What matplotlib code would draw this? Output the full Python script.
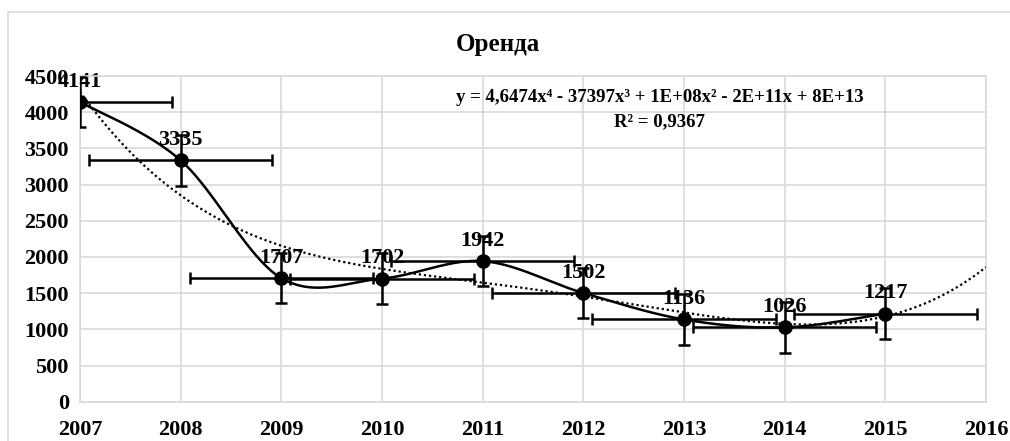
import numpy as np
import matplotlib
matplotlib.use("Agg")
import matplotlib.pyplot as plt
from matplotlib.patches import Rectangle

plt.rcParams['font.family'] = ['Liberation Serif', 'DejaVu Serif']
plt.rcParams['font.weight'] = 'bold'

years = [2007, 2008, 2009, 2010, 2011, 2012, 2013, 2014, 2015]
rent = [4141, 3335, 1707, 1702, 1942, 1502, 1136, 1026, 1217]
x_err = 0.91
y_err = 350
title = "Оренда"
equation = "y = 4,6474x⁴ - 37397x³ + 1E+08x² - 2E+11x + 8E+13"
r2_text = "R² = 0,9367"
x_ticks = list(range(2007, 2017))
y_ticks = list(range(0, 4501, 500))


def smooth(xs, ys, n=40):
    # bezier curve through the points, catmull-rom style tangents
    xs = np.asarray(xs, float)
    ys = np.asarray(ys, float)
    px = np.concatenate([[xs[0]], xs, [xs[-1]]])
    py = np.concatenate([[ys[0]], ys, [ys[-1]]])
    out_x, out_y = [], []
    t = np.linspace(0, 1, n)
    for i in range(1, len(px) - 2):
        p0 = np.array([px[i], py[i]])
        p3 = np.array([px[i + 1], py[i + 1]])
        p1 = p0 + (np.array([px[i + 1], py[i + 1]]) - np.array([px[i - 1], py[i - 1]])) / 6
        p2 = p3 - (np.array([px[i + 2], py[i + 2]]) - np.array([px[i], py[i]])) / 6
        b = ((1 - t) ** 3)[:, None] * p0 + (3 * (1 - t) ** 2 * t)[:, None] * p1 \
            + (3 * (1 - t) * t ** 2)[:, None] * p2 + (t ** 3)[:, None] * p3
        out_x.extend(b[:, 0])
        out_y.extend(b[:, 1])
    return out_x, out_y


fig = plt.figure(figsize=(10.1, 4.41), dpi=100)
fig.patches.append(Rectangle((8 / 1010, -0.1), 1.2, (441 - 12) / 441 + 0.1,
                             transform=fig.transFigure, fill=False,
                             edgecolor='#d9d9d9', linewidth=1.2))
ax = fig.add_axes([80 / 1010, 1 - 401.7 / 441, 906 / 1010, 325.7 / 441])

ax.set_xlim(2007, 2016)
ax.set_ylim(0, 4500)
ax.set_xticks(x_ticks)
ax.set_yticks(y_ticks)
ax.grid(True, color='#d9d9d9', linewidth=1.2)
ax.set_axisbelow(True)
for s in ax.spines.values():
    s.set_color('#d9d9d9')
    s.set_linewidth(1.2)
ax.tick_params(length=0, labelsize=16, pad=8)
ax.tick_params(axis='x', pad=13)

# trend line, 4th degree, forecast one period forward
coef = np.polyfit(np.array(years) - 2007, rent, 4)
tx = np.linspace(2007, 2016, 300)
ax.plot(tx, np.polyval(coef, tx - 2007), color='black', linestyle=(0, (1, 1.3)),
        linewidth=1.6, zorder=3)

sx, sy = smooth(years, rent)
ax.plot(sx, sy, color='black', linewidth=1.8, zorder=4)

ax.errorbar(years, rent, xerr=x_err, yerr=y_err, fmt='o', color='black',
            markersize=9.5, elinewidth=1.8, capsize=4, capthick=1.8, zorder=5)

for xv, yv in zip(years, rent):
    ax.annotate(str(yv), (xv, yv), xytext=(0, 11), textcoords='offset points',
                ha='center', va='baseline', fontsize=16, fontweight='bold',
                zorder=2, annotation_clip=False)

fig.text(498 / 1010, 1 - 44 / 441, title, ha='center', va='center',
         fontsize=18, fontweight='bold')
fig.text(660 / 1010, 1 - 98 / 441, equation, ha='center', va='center',
         fontsize=13.5, fontweight='bold')
fig.text(660 / 1010, 1 - 122 / 441, r2_text, ha='center', va='center',
         fontsize=13.5, fontweight='bold')

fig.savefig('out.png', dpi=100)
